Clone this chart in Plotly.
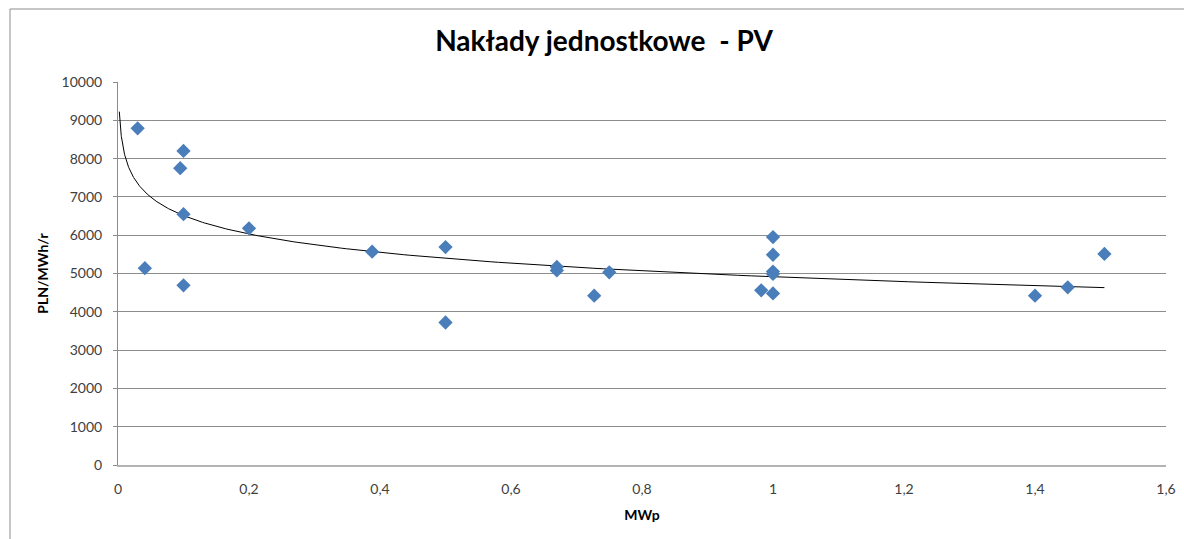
# Nakłady jednostkowe - PV: scatter with logarithmic trendline

import numpy as np
import plotly.graph_objects as go

# installed capacity (MWp)
mwp = [0.03, 0.041, 0.095, 0.1, 0.1, 0.1, 0.2, 0.388, 0.5, 0.5,
       0.67, 0.67, 0.727, 0.75, 0.982, 1.0, 1.0, 1.0, 1.0, 1.0,
       1.4, 1.45, 1.506]
# unit outlays (PLN/MWh/r)
pln = [8790, 5140, 7750, 8200, 6550, 4690, 6180, 5570, 5690, 3720,
       5170, 5080, 4420, 5030, 4560, 5950, 5490, 5050, 4990, 4480,
       4420, 4640, 5510]

x_ticks = [0, 0.2, 0.4, 0.6, 0.8, 1.0, 1.2, 1.4, 1.6]
y_ticks = list(range(0, 10001, 1000))
trend_start = 0.002

# log trendline y = a*ln(x) + b, least squares like Excel
a, b = np.polyfit(np.log(mwp), pln, 1)
tx = np.geomspace(trend_start, max(mwp), 300)
ty = a * np.log(tx) + b

fig = go.Figure()
fig.add_trace(go.Scatter(x=tx, y=ty, mode='lines',
    line=dict(color='black', width=1),
    hoverinfo='skip'))
fig.add_trace(go.Scatter(x=mwp, y=pln, mode='markers',
    marker=dict(symbol='diamond', size=11, color='#4A7EBB',
                line=dict(width=0))))

W, H = 1184, 539
L, R, T, B = 118, 18, 82, 74
fig.update_layout(
    width=W, height=H,
    margin=dict(l=L, r=R, t=T, b=B, autoexpand=False),
    paper_bgcolor='white', plot_bgcolor='white',
    showlegend=False,
    separators=', ',
    font=dict(family='Lato, sans-serif', color='#404040', size=14),
    title=dict(text='<b>Nakłady jednostkowe  - PV</b>',
               xref='container', x=604 / W, xanchor='center',
               yref='container', y=1 - 41 / H, yanchor='middle',
               font=dict(size=28, color='black')),
)
fig.update_xaxes(range=[0, 1.6], tickvals=x_ticks,
    showgrid=False, zeroline=False,
    showline=True, linecolor='#B3B3B3', linewidth=2,
    ticks='', ticklabelstandoff=10,
    title=dict(text='<b>MWp</b>', font=dict(size=14, color='black'), standoff=14))
fig.update_yaxes(range=[0, 10000], tickvals=y_ticks, tickformat='d',
    showgrid=True, gridcolor='#8C8C8C', gridwidth=1, zeroline=False,
    showline=True, linecolor='#8C8C8C', linewidth=1,
    ticks='outside', ticklen=4, tickcolor='#8C8C8C', ticklabelstandoff=8,
    title=dict(text='<b>PLN/MWh/r</b>', font=dict(size=14, color='black'), standoff=9))

# outer chart frame (runs off the right and bottom edges)
pw, ph = W - L - R, H - T - B
fig.add_shape(type='rect', xref='paper', yref='paper',
    x0=(10 - L) / pw, x1=1.2, y0=-0.3, y1=1 + (T - 9) / ph,
    line=dict(color='#8C8C8C', width=1), layer='below')

# drop the default body margin so the figure fills the window
fig.write_html("out.html", config={'displayModeBar': False},
    post_script="document.body.style.margin='0';document.body.style.overflow='hidden';")
